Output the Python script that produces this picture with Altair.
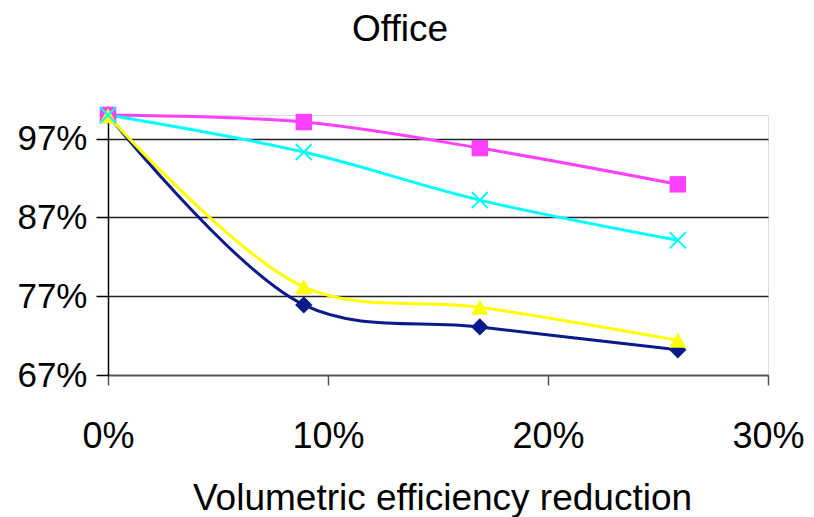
import altair as alt
import pandas as pd

x_vals = [0.0, 0.089, 0.169, 0.259]
series_names = ["Navy", "Pink", "Yellow", "Cyan"]
navy = [1.00, 0.759, 0.731, 0.702]
pink = [1.00, 0.991, 0.958, 0.912]
yellow = [0.999, 0.782, 0.756, 0.714]
cyan = [1.00, 0.953, 0.892, 0.841]
y_ticks = [0.67, 0.77, 0.87, 0.97]
x_ticks = [0.0, 0.1, 0.2, 0.3]

colors = ["#0A1A8A", "#FF40FF", "#FFFF00", "#00FFFF"]

rows = []
for i, (name, vals) in enumerate(zip(series_names, [navy, pink, yellow, cyan])):
    for x, y in zip(x_vals, vals):
        rows.append({"series": name, "order": i, "x": x, "y": y})
df = pd.DataFrame(rows)

FONT = "Liberation Sans"

xscale = alt.Scale(domain=[0, 0.30], nice=False, zero=False)
yscale = alt.Scale(domain=[0.67, 1.0], nice=False, zero=False)
cscale = alt.Scale(domain=series_names, range=colors)

xenc = alt.X("x:Q", scale=xscale, axis=alt.Axis(
    values=x_ticks, format=".0%", title="Volumetric efficiency reduction",
    grid=False, domainColor="#555555", domainWidth=1.5, tickColor="#555555",
    tickWidth=1.5, tickSize=10, labelFontSize=36, labelFont=FONT,
    labelColor="black", labelBaseline="alphabetic", labelPadding=62,
    titleFontSize=37, titleFont=FONT, titleFontWeight="normal", titleColor="black",
    titleBaseline="alphabetic", titleY=134, titleX=334, titleAlign="center",
    labelFlush=False))
yenc = alt.Y("y:Q", scale=yscale, axis=alt.Axis(
    values=y_ticks, format=".0%", title=None,
    grid=True, gridColor="#222222", gridWidth=1.3,
    domainColor="black", domainWidth=1.5, tickColor="black", tickWidth=1.5,
    tickSize=12, labelFontSize=35, labelFont=FONT, labelColor="black",
    labelPadding=9, labelFlush=False))

base = alt.Chart(df)

lines = base.mark_line(interpolate="catmull-rom", strokeWidth=3, clip=False).encode(
    x=xenc, y=yenc,
    color=alt.Color("series:N", scale=cscale, legend=None),
    detail="series:N",
    order=alt.Order("x:Q"),
)

def pts(name, shape, size):
    return alt.Chart(df[df.series == name]).mark_point(
        shape=shape, filled=True, size=size, opacity=1, clip=False,
        color=colors[series_names.index(name)],
    ).encode(x="x:Q", y="y:Q")

navy_pts = pts("Navy", "diamond", 300)
pink_pts = pts("Pink", "square", 270)
yellow_pts = pts("Yellow", "triangle-up", 300)
cyan_pts = alt.Chart(df[df.series == "Cyan"]).mark_point(
    shape="M-1,-1L1,1M1,-1L-1,1", filled=False, size=260, strokeWidth=2,
    opacity=1, clip=False, color="#00FFFF",
).encode(x="x:Q", y="y:Q")

chart = alt.layer(lines, navy_pts, pink_pts, yellow_pts, cyan_pts).properties(
    width=660, height=260,
    title=alt.TitleParams("Office", fontSize=37, font=FONT, fontWeight="normal",
                          color="black", anchor="middle", offset=54, dx=-38),
    autosize=alt.AutoSizeParams(type="none"),
    padding={"left": 108, "top": 115, "right": 46, "bottom": 142},
).configure_view(stroke="#999999", strokeWidth=2).configure(background="white")

chart.save("out.html", embed_options={"renderer": "svg", "actions": False})
